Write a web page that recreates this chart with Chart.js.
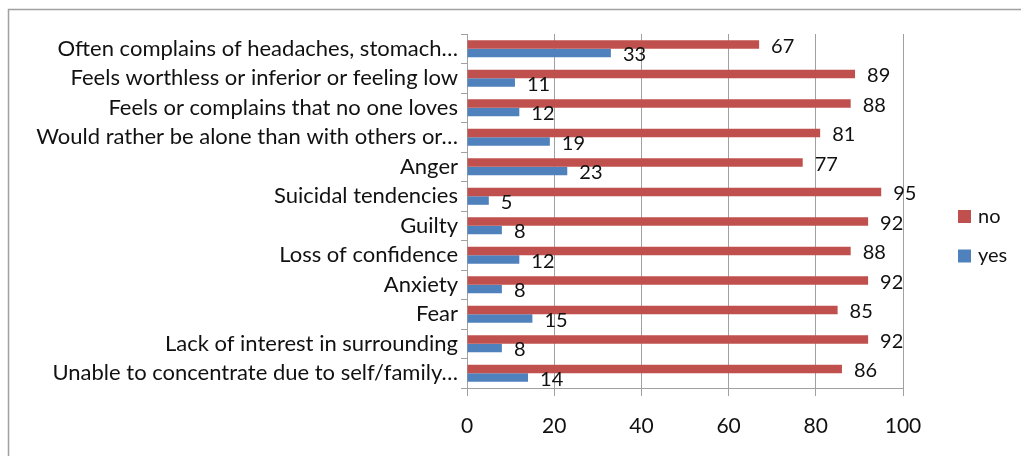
<!DOCTYPE html>
<html>
<head>
<meta charset="utf-8">
<script src="https://cdn.jsdelivr.net/npm/chart.js@4"></script>
<style>
  html, body { margin: 0; padding: 0; background: #fff; }
  #wrap { width: 1021px; height: 456px; position: relative; }
</style>
</head>
<body>
<div id="wrap"><canvas id="c" width="1021" height="456"></canvas></div>
<script>
const categories = [
  "Often complains of headaches, stomach\u2026",
  "Feels worthless or inferior or feeling low",
  "Feels or complains that no one loves",
  "Would rather be alone than with others or\u2026",
  "Anger",
  "Suicidal tendencies",
  "Guilty",
  "Loss of confidence",
  "Anxiety",
  "Fear",
  "Lack of interest in surrounding",
  "Unable to concentrate due to self/family\u2026"
];
const noValues  = [67, 89, 88, 81, 77, 95, 92, 88, 92, 85, 92, 86];
const yesValues = [33, 11, 12, 19, 23, 5, 8, 12, 8, 15, 8, 14];
const seriesNames = ["no", "yes"];
const xTicks = [0, 20, 40, 60, 80, 100];

const RED = "#C0504D";
const BLUE = "#4F81BD";
const FONT = "Lato, 'Open Sans', sans-serif";

const frame = {
  id: "frame",
  beforeDraw(chart) {
    const ctx = chart.ctx;
    ctx.save();
    ctx.fillStyle = "#fff";
    ctx.fillRect(0, 0, chart.width, chart.height);
    ctx.strokeStyle = "#a0a0a0";
    ctx.lineWidth = 1.5;
    ctx.beginPath();
    ctx.moveTo(8.5, chart.height);
    ctx.lineTo(8.5, 9.5);
    ctx.lineTo(chart.width, 9.5);
    ctx.stroke();
    ctx.restore();
  }
};

const valueLabels = {
  id: "valueLabels",
  afterDatasetsDraw(chart) {
    const ctx = chart.ctx;
    ctx.save();
    ctx.font = "20px " + FONT;
    ctx.fillStyle = "#111";
    ctx.textAlign = "left";
    ctx.textBaseline = "middle";
    chart.data.datasets.forEach((ds, di) => {
      const meta = chart.getDatasetMeta(di);
      meta.data.forEach((el, i) => {
        ctx.fillText(String(ds.data[i]), el.x + 12, el.y + 2);
      });
    });
    ctx.restore();
  }
};

const customLegend = {
  id: "customLegend",
  afterDraw(chart) {
    const ctx = chart.ctx;
    ctx.save();
    ctx.font = "20px " + FONT;
    ctx.textAlign = "left";
    ctx.textBaseline = "middle";
    const items = [
      { name: seriesNames[0], color: RED, y: 216.5 },
      { name: seriesNames[1], color: BLUE, y: 256 }
    ];
    items.forEach(it => {
      ctx.fillStyle = it.color;
      ctx.fillRect(958, it.y - 6.5, 13, 13);
      ctx.fillStyle = "#111";
      ctx.fillText(it.name, 978, it.y);
    });
    ctx.restore();
  }
};

new Chart(document.getElementById("c"), {
  type: "bar",
  data: {
    labels: categories,
    datasets: [
      { label: seriesNames[0], data: noValues, backgroundColor: RED, borderWidth: 0 },
      { label: seriesNames[1], data: yesValues, backgroundColor: BLUE, borderWidth: 0 }
    ]
  },
  options: {
    indexAxis: "y",
    responsive: false,
    animation: false,
    devicePixelRatio: 1,
    layout: { padding: { top: 34, right: 118, bottom: 0, left: 0 } },
    datasets: { bar: { barPercentage: 1.0, categoryPercentage: 0.58 } },
    plugins: {
      legend: { display: false },
      tooltip: { enabled: false }
    },
    scales: {
      x: {
        min: 0, max: 100,
        afterBuildTicks(scale) { scale.ticks = xTicks.map(v => ({ value: v })); },
        afterFit(scale) { scale.height = 68; },
        grid: { color: "#a0a0a0", lineWidth: 1, drawTicks: true, tickLength: 8, tickColor: "#a0a0a0" },
        border: { color: "#a0a0a0", width: 1 },
        ticks: { font: { family: FONT, size: 21 }, color: "#111", padding: 18 }
      },
      y: {
        afterFit(scale) { scale.width = 467; },
        grid: { drawOnChartArea: false, drawTicks: true, tickLength: 6, tickColor: "#a0a0a0", offset: true },
        border: { color: "#a0a0a0", width: 1 },
        ticks: { font: { family: FONT, size: 22 }, color: "#111", padding: 3, autoSkip: false }
      }
    }
  },
  plugins: [frame, valueLabels, customLegend]
});
</script>
</body>
</html>
